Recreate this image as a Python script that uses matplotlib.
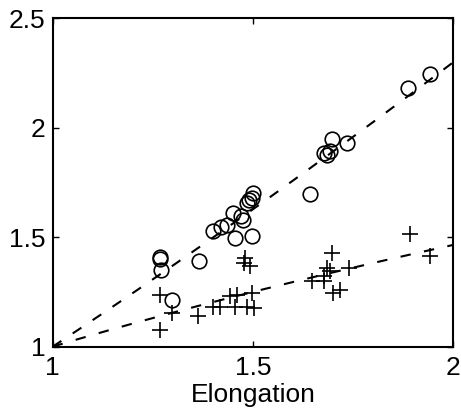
import numpy as np
import matplotlib
matplotlib.use("Agg")
import matplotlib.pyplot as plt

# --- donnees ---
cercles_x = [1.268, 1.268, 1.270, 1.298, 1.365, 1.400, 1.420, 1.435, 1.455, 1.497,
             1.450, 1.470, 1.476, 1.485, 1.490, 1.497, 1.500, 1.643, 1.677, 1.685,
             1.692, 1.697, 1.735, 1.888, 1.943]
cercles_y = [1.410, 1.398, 1.350, 1.215, 1.390, 1.528, 1.545, 1.555, 1.497, 1.505,
             1.612, 1.596, 1.580, 1.656, 1.668, 1.680, 1.702, 1.698, 1.886, 1.876,
             1.893, 1.950, 1.928, 2.182, 2.244]

croix_x = [1.268, 1.268, 1.297, 1.364, 1.400, 1.418, 1.443, 1.460, 1.497, 1.456,
           1.485, 1.502, 1.477, 1.493, 1.480, 1.648, 1.677, 1.677, 1.685, 1.693,
           1.697, 1.700, 1.718, 1.739, 1.893, 1.942]
croix_y = [1.237, 1.077, 1.153, 1.138, 1.183, 1.183, 1.229, 1.237, 1.245, 1.183,
           1.183, 1.176, 1.382, 1.367, 1.405, 1.298, 1.298, 1.321, 1.360, 1.344,
           1.428, 1.245, 1.260, 1.360, 1.512, 1.413]

# courbes d'ajustement y = x^a
exposants = [1.2, 0.55]

x_ticks = [1, 1.5, 2]
x_tick_labels = ["1", "1.5", "2"]
y_ticks = [1, 1.5, 2, 2.5]
y_tick_labels = ["1", "1.5", "2", "2.5"]

plt.rcParams['font.family'] = ['Liberation Sans', 'DejaVu Sans']

fig = plt.figure(figsize=(4.61, 4.16), dpi=100)
ax = fig.add_axes([0.1143, 0.1667, 0.9827 - 0.1143, 0.9567 - 0.1667])

xx = np.linspace(1, 2, 200)
for a in exposants:
    ax.plot(xx, xx ** a, color='black', lw=1.5, linestyle=(0, (5, 6.5)))

ax.plot(cercles_x, cercles_y, 'o', mfc='none', mec='black', ms=10.5, mew=1.2)
ax.plot(croix_x, croix_y, '+', color='black', ms=11, mew=1.2)

ax.set_xlim(1, 2)
ax.set_ylim(1, 2.5)
ax.set_xticks(x_ticks)
ax.set_xticklabels(x_tick_labels)
ax.set_yticks(y_ticks)
ax.set_yticklabels(y_tick_labels)
ax.tick_params(direction='in', top=True, right=True, length=4, width=1,
               labelsize=19)
ax.tick_params(axis='x', pad=7)
ax.tick_params(axis='y', pad=5)
for s in ax.spines.values():
    s.set_linewidth(1.5)

ax.set_xlabel("Elongation", fontsize=19, labelpad=2)

fig.savefig("out.png", dpi=100)
